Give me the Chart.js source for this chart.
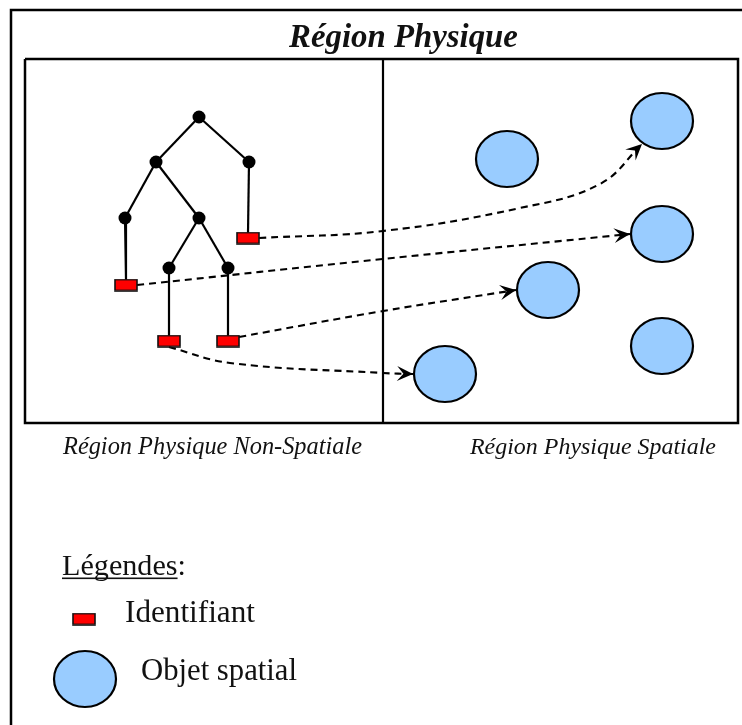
<!DOCTYPE html>
<html><head><meta charset="utf-8">
<script src="https://cdn.jsdelivr.net/npm/chart.js@4.4.1/dist/chart.umd.min.js"></script>
<style>html,body{margin:0;padding:0;background:#fff;overflow:hidden}canvas{display:block}</style>
</head><body>
<canvas id="c" width="742" height="725" style="width:742px;height:725px"></canvas>
<script>
// ---------- data ----------
const treeNodes = [[199,117],[156,162],[249,162],[125,218],[199,218],[169,268],[228,268]];
const treeEdges = [[0,1],[0,2],[1,3],[1,4],[4,5],[4,6]];
const identifiers = [[248,238],[126,285],[169,341],[228,341]];
const identifierParents = [2,3,5,6];
const spatialObjects = [[507,159],[662,121],[662,234],[548,290],[662,346],[445,374]];
const linkPaths = [
  [[259,238],[383,231],[520,208],[600,184],[642,144]],
  [[137,285],[383,259],[630,234]],
  [[239,337],[383,311],[516,290]],
  [[169,347],[230,363],[383,373],[413,374]]
];
const outerFrame = [[745,10],[11,10],[11,728]];
const innerFrame = [[25,59],[738,59],[738,423],[25,423],[25,59]];
const divider = [[383,59],[383,423]];
const legendSymbols = {identifier:[84,619], object:[85,679]};
const textLabels = ['Région Physique','Région Physique Non-Spatiale','Région Physique Spatiale','Légendes:','Identifiant','Objet spatial'];

// ---------- layout / style (separate from data) ----------
const textLayout = [
  {x:289, y:47, w:229, font:'bold italic', fam:'"Liberation Serif", serif'},
  {x:63,  y:454, w:299, font:'italic', fam:'"Liberation Serif", serif'},
  {x:470, y:454, w:246, font:'italic', fam:'"Liberation Serif", serif'},
  {x:62,  y:575, w:124, font:'', fam:'"Liberation Serif", serif'},
  {x:125, y:622, w:130, font:'', fam:'"Liberation Serif", serif'},
  {x:141, y:680, w:156, font:'', fam:'"Liberation Serif", serif'}
];

const pt = a => ({x:a[0], y:a[1]});

function makeRectImg(){
  const c = document.createElement('canvas'); c.width = 24; c.height = 13;
  const g = c.getContext('2d');
  g.fillStyle = '#ff0000'; g.fillRect(1,1,22,11);
  g.strokeStyle = '#111'; g.lineWidth = 1.6; g.strokeRect(1,1,22,11);
  return c;
}
function makeEllipseImg(){
  const c = document.createElement('canvas'); c.width = 68; c.height = 62;
  const g = c.getContext('2d');
  g.beginPath(); g.ellipse(34,31,31,28,0,0,Math.PI*2);
  g.fillStyle = '#99ccff'; g.fill();
  g.strokeStyle = '#000'; g.lineWidth = 2.2; g.stroke();
  return c;
}
const rectImg = makeRectImg();
const ellImg = makeEllipseImg();

const datasets = [];
function lineDs(points, extra){
  return Object.assign({type:'scatter', data: points.map(pt), showLine:true, pointRadius:0,
    borderColor:'#000', borderWidth:2, tension:0, clip:false, order:5}, extra||{});
}
datasets.push(lineDs(outerFrame, {borderWidth:2.5}));
datasets.push(lineDs(innerFrame, {borderWidth:2.5}));
datasets.push(lineDs(divider, {borderWidth:2.2}));
treeEdges.forEach(e => datasets.push(lineDs([treeNodes[e[0]], treeNodes[e[1]]], {order:4, borderWidth:2.2})));
identifiers.forEach((r,i) => datasets.push(lineDs([treeNodes[identifierParents[i]], [r[0], r[1]-5]], {order:4, borderWidth:2.2})));
linkPaths.forEach(p => datasets.push(lineDs(p, {borderDash:[7,5], borderWidth:2.1, tension:0.4, order:3, isLink:true})));
datasets.push({type:'scatter', data: spatialObjects.map(pt), pointStyle: ellImg, pointRadius: 30, order:2, clip:false});
datasets.push({type:'scatter', data: [pt(legendSymbols.object)], pointStyle: ellImg, pointRadius: 30, order:2, clip:false});
datasets.push({type:'scatter', data: treeNodes.map(pt), pointRadius:6.5, backgroundColor:'#000', borderColor:'#000', borderWidth:0, order:1});
datasets.push({type:'scatter', data: identifiers.map(pt), pointStyle: rectImg, pointRadius: 12, order:1});
datasets.push({type:'scatter', data: [pt(legendSymbols.identifier)], pointStyle: rectImg, pointRadius: 12, order:1});

const arrowPlugin = {
  id:'arrows',
  afterDatasetsDraw(chart){
    const ctx = chart.ctx;
    chart.data.datasets.forEach((ds,i) => {
      if(!ds.isLink) return;
      const meta = chart.getDatasetMeta(i);
      const last = meta.data[meta.data.length-1];
      const prev = meta.data[meta.data.length-2];
      let cx = last.cp1x, cy = last.cp1y;
      if(cx === undefined || (Math.abs(cx-last.x)<0.01 && Math.abs(cy-last.y)<0.01)){cx = prev.x; cy = prev.y;}
      const a = Math.atan2(last.y - cy, last.x - cx);
      const L = 16, W = 7.5;
      ctx.save();
      ctx.translate(last.x, last.y); ctx.rotate(a);
      ctx.beginPath();
      ctx.moveTo(0,0); ctx.lineTo(-L, -W); ctx.lineTo(-L*0.6, 0); ctx.lineTo(-L, W); ctx.closePath();
      ctx.fillStyle = '#000'; ctx.fill();
      ctx.restore();
    });
  }
};
const textPlugin = {
  id:'texts',
  afterDraw(chart){
    const ctx = chart.ctx, xs = chart.scales.x, ys = chart.scales.y;
    ctx.save();
    ctx.fillStyle = '#111'; ctx.textBaseline = 'alphabetic'; ctx.textAlign = 'left';
    textLabels.forEach((t,i) => {
      const L = textLayout[i];
      ctx.font = (L.font + ' 20px ' + L.fam).trim();
      const w = ctx.measureText(t).width;
      const size = 20 * L.w / w;
      ctx.font = (L.font + ' ' + size.toFixed(2) + 'px ' + L.fam).trim();
      ctx.fillText(t, xs.getPixelForValue(L.x), ys.getPixelForValue(L.y));
      if(i === 3){
        const uw = ctx.measureText('Légendes').width;
        ctx.fillRect(xs.getPixelForValue(L.x), ys.getPixelForValue(L.y)+2.5, uw, 1.6);
      }
    });
    ctx.restore();
  }
};

new Chart(document.getElementById('c'), {
  type:'scatter',
  data:{datasets},
  options:{
    responsive:false, animation:false, events:[],
    layout:{padding:0, autoPadding:false},
    plugins:{legend:{display:false}, tooltip:{enabled:false}, title:{display:false}},
    scales:{
      x:{type:'linear', min:0, max:742, display:false},
      y:{type:'linear', min:0, max:725, reverse:true, display:false}
    }
  },
  plugins:[arrowPlugin, textPlugin]
});
</script>
</body></html>
